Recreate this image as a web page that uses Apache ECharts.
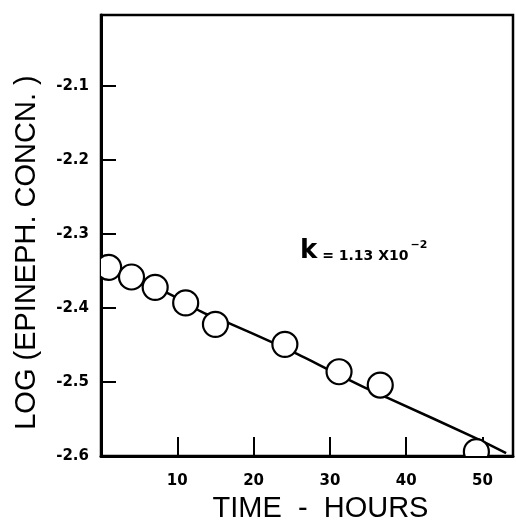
<!DOCTYPE html>
<html>
<head>
<meta charset="utf-8">
<script src="https://cdn.jsdelivr.net/npm/echarts@6/dist/echarts.min.js"></script>
<style>
  html, body { margin: 0; padding: 0; background: #fff; }
  #chart { width: 516px; height: 528px; }
</style>
</head>
<body>
<div id="chart"></div>
<script>
// measured points (circles)
const hours = [1.0, 4.0, 7.1, 11.1, 15.0, 24.1, 31.2, 36.6, 49.2]
const logConc = [-2.345, -2.358, -2.372, -2.393, -2.422, -2.449, -2.486, -2.504, -2.594]
// drawn curve through them
const fitHours = [1.0, 9.0, 13.2, 16.9, 22.6, 25.7, 29.6, 32.5, 35.1, 37.5, 49.4, 53.1]
const fitLog = [-2.345, -2.381, -2.405, -2.421, -2.447, -2.462, -2.482, -2.497, -2.510, -2.521, -2.577, -2.596]
// tick labels
const xTicks = [10, 20, 30, 40, 50]
const yTicks = [-2.6, -2.5, -2.4, -2.3, -2.2, -2.1]

const titleFont = '"Liberation Sans", Arial, sans-serif'
const tickFont = '"DejaVu Sans", sans-serif'

let myChart = echarts.init(document.getElementById('chart'))

let points = hours.map(function (h, i) { return [h, logConc[i]] })
let curve = fitHours.map(function (h, i) { return [h, fitLog[i]] })

myChart.setOption({
  animation: false,
  backgroundColor: '#fff',
  grid: {
    left: 101,
    right: 3,
    top: 15,
    bottom: 60,
    show: true,
    borderColor: '#000',
    borderWidth: 2.5,
    backgroundColor: 'transparent'
  },
  xAxis: {
    type: 'value',
    min: 0,
    max: 54,
    interval: 10,
    name: 'TIME  -  HOURS',
    nameLocation: 'middle',
    nameGap: 37,
    nameTextStyle: {
      fontFamily: titleFont,
      fontSize: 29,
      color: '#000',
      padding: [0, 0, 0, 27]
    },
    splitLine: { show: false },
    axisLine: { lineStyle: { color: '#000', width: 3 } },
    axisTick: { inside: true, length: 19, lineStyle: { color: '#000', width: 2 } },
    axisLabel: {
      margin: 18,
      fontFamily: tickFont,
      fontWeight: 'bold',
      fontSize: 15,
      color: '#000',
      formatter: function (v) {
        return xTicks.indexOf(Math.round(v)) >= 0 && Math.abs(v - Math.round(v)) < 1e-6 ? String(Math.round(v)) : ''
      }
    }
  },
  yAxis: {
    type: 'value',
    min: -2.6,
    max: -2.004,
    interval: 0.1,
    name: 'LOG (EPINEPH. CONCN. )',
    nameLocation: 'middle',
    nameGap: 60,
    nameRotate: 90,
    nameTextStyle: {
      fontFamily: titleFont,
      fontSize: 29,
      color: '#000',
      padding: [0, 34, 0, 0]
    },
    splitLine: { show: false },
    axisLine: { lineStyle: { color: '#000', width: 3 } },
    axisTick: { inside: true, length: 15, lineStyle: { color: '#000', width: 2 } },
    axisLabel: {
      margin: 12,
      fontFamily: tickFont,
      fontWeight: 'bold',
      fontSize: 15,
      color: '#000',
      formatter: function (v) {
        let r = Math.round(v * 10) / 10
        if (Math.abs(v - r) > 1e-6 || yTicks.indexOf(r) < 0) return ''
        return r.toFixed(1)
      }
    }
  },
  graphic: [
    {
      type: 'text',
      left: 300,
      top: 238,
      style: {
        text: '{k|k}{s| = 1.13 X10}{sup|−2}',
        rich: {
          k: { fontFamily: tickFont, fontWeight: 'bold', fontSize: 26, fill: '#000' },
          s: { fontFamily: tickFont, fontWeight: 'bold', fontSize: 14, fill: '#000', padding: [10, 0, 0, 0] },
          sup: { fontFamily: tickFont, fontWeight: 'bold', fontSize: 11, fill: '#000', padding: [0, 0, 12, 2] }
        }
      }
    }
  ],
  series: [
    {
      type: 'line',
      data: curve,
      smooth: 0.3,
      showSymbol: false,
      lineStyle: { color: '#000', width: 2.5 },
      z: 2
    },
    {
      type: 'custom',
      data: points,
      z: 3,
      renderItem: function (params, api) {
        let p = api.coord([api.value(0), api.value(1)])
        let cs = params.coordSys
        return {
          type: 'circle',
          shape: { cx: p[0], cy: p[1], r: 12.5 },
          style: { fill: '#fff', stroke: '#000', lineWidth: 2.2 },
          clipPath: {
            type: 'rect',
            shape: { x: cs.x, y: cs.y, width: cs.width, height: cs.height }
          }
        }
      }
    }
  ]
})
</script>
</body>
</html>
